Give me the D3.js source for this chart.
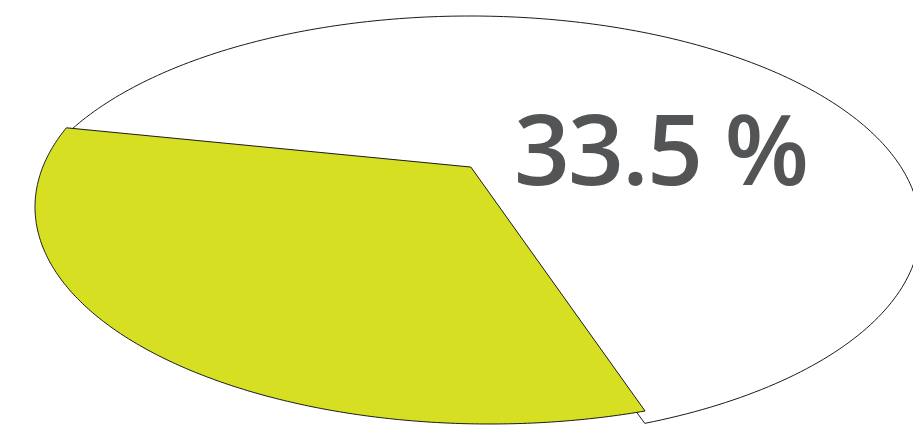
<!DOCTYPE html>
<html>
<head>
<meta charset="utf-8">
<script src="https://cdn.jsdelivr.net/npm/d3@7"></script>
<style>
  html, body { margin: 0; padding: 0; background: #ffffff; }
  svg { display: block; }
</style>
</head>
<body>
<svg id="chart" width="913" height="425"></svg>
<script>
// Share of the highlighted segment versus the rest
const categories = ["Rest", "Highlighted"];
const values = [66.5, 33.5];
const labelValue = 33.5;
const labelUnit = "%";

const width = 913, height = 425;
const svg = d3.select("#chart");

// Each disc is a tilted circle seen in perspective: the circle is shifted
// projectively so its centre lands at (px, py) inside the unit disc, then
// stretched onto an ellipse.
const discs = {
  Rest:        { cx: 470, cy: 228, rx: 450, ry: 212, px: 0.007,  py: -0.184, fill: "#ffffff" },
  Highlighted: { cx: 490, cy: 207, rx: 455, ry: 217, px: -0.042, py: -0.184, fill: "#d6df22" }
};

function perspectiveShift(x, y, px, py) {
  const pp = px * px + py * py;
  if (pp === 0) return [x, y];
  const n = Math.sqrt(pp), ux = px / n, uy = py / n;
  const dot = x * ux + y * uy;
  const parX = dot * ux, parY = dot * uy;
  const perX = x - parX, perY = y - parY;
  const s = Math.sqrt(1 - pp);
  const den = 1 + px * x + py * y;
  return [(px + parX + s * perX) / den, (py + parY + s * perY) / den];
}

function project(angle, r, d) {
  const x = r * Math.sin(angle), y = -r * Math.cos(angle);
  const [u, v] = perspectiveShift(x, y, d.px, d.py);
  return [d.cx + d.rx * u, d.cy + d.ry * v];
}

const startDeg = -78.1;
const pie = d3.pie()
  .sort(null)
  .value(v => v)
  .startAngle(startDeg * Math.PI / 180)
  .endAngle((startDeg + 360) * Math.PI / 180);

const arcs = pie(values).map((a, i) => ({ ...a, key: categories[i] }));

const line = d3.line().curve(d3.curveLinearClosed);

function slicePoints(a, d) {
  const pts = [project(0, 0, d)];
  const steps = 240;
  for (let k = 0; k <= steps; k++) {
    const t = a.startAngle + (a.endAngle - a.startAngle) * k / steps;
    pts.push(project(t, 1, d));
  }
  return pts;
}

svg.append("g")
  .selectAll("path")
  .data(arcs)
  .join("path")
  .attr("d", a => line(slicePoints(a, discs[a.key])))
  .attr("fill", a => discs[a.key].fill)
  .attr("stroke", "#1a1a1a")
  .attr("stroke-width", 1)
  .attr("stroke-linejoin", "round");

// Value callout
const label = svg.append("text")
  .attr("x", 514)
  .attr("y", 185)
  .attr("fill", "#535456")
  .attr("font-family", "'Open Sans', sans-serif")
  .attr("font-weight", 600)
  .attr("font-size", 98)
  .attr("letter-spacing", -2);
label.append("tspan").text(d3.format(".1f")(labelValue) + " ");
label.append("tspan").text(labelUnit);
</script>
</body>
</html>
